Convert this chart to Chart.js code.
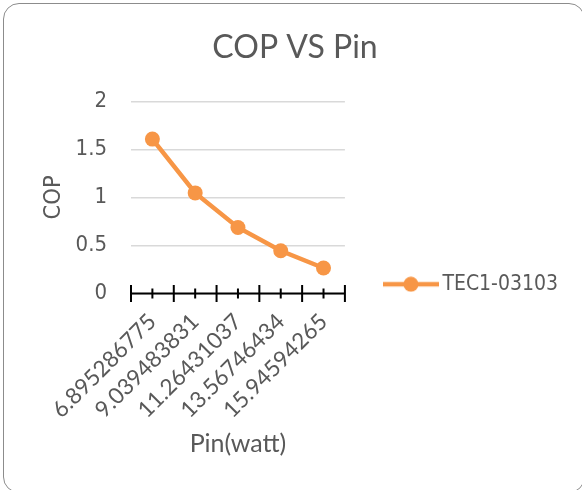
<!DOCTYPE html>
<html>
<head>
<meta charset="utf-8">
<script src="https://cdn.jsdelivr.net/npm/chart.js@4.4.1/dist/chart.umd.min.js"></script>
<style>
  html, body { margin: 0; padding: 0; background: #fff; }
  #wrap { position: relative; width: 582px; height: 490px; overflow: hidden; }
  #frame { position: absolute; left: 3px; top: 3px; width: 582px; height: 490px;
           border: 1.5px solid #8c8c8c; border-radius: 16px; box-sizing: border-box; pointer-events: none; }
</style>
</head>
<body>
<div id="wrap">
  <canvas id="c" width="582" height="490"></canvas>
  <div id="frame"></div>
</div>
<script>
var pinWatt = ['6.895286775', '9.039483831', '11.26431037', '13.56746434', '15.94594265'];
var copValues = [1.607, 1.047, 0.687, 0.444, 0.264];
var seriesName = 'TEC1-03103';
var yMin = 0, yMax = 2, yStep = 0.5;

var orange = '#F79646';
var grey = '#595959';
var narrow = "'Liberation Sans Narrow', 'DejaVu Sans Condensed', sans-serif";

// legend marker: short line with a dot, like the office legend
function legendMarker() {
	var cv = document.createElement('canvas');
	cv.width = 56; cv.height = 16;
	var g = cv.getContext('2d');
	g.strokeStyle = orange;
	g.lineWidth = 4.5;
	g.beginPath(); g.moveTo(0, 8); g.lineTo(56, 8); g.stroke();
	g.fillStyle = orange;
	g.beginPath(); g.arc(28, 8, 7.5, 0, Math.PI * 2); g.fill();
	return cv;
}

// x axis line with ticks crossing it (major between categories, minor at categories)
var crossTicks = {
	id: 'crossTicks',
	afterDatasetsDraw: function (chart) {
		var x = chart.scales.x, y = chart.scales.y;
		var ctx = chart.ctx;
		var y0 = y.getPixelForValue(0);
		var n = x.ticks.length;
		var half = (x.getPixelForValue(1) - x.getPixelForValue(0)) / 2;
		ctx.save();
		ctx.strokeStyle = '#000';
		ctx.lineWidth = 2;
		ctx.beginPath();
		ctx.moveTo(x.getPixelForValue(0) - half, y0);
		ctx.lineTo(x.getPixelForValue(n - 1) + half, y0);
		for (var i = 0; i < n; i++) {
			var c = x.getPixelForValue(i);
			ctx.moveTo(c - half, y0 - 8.5); ctx.lineTo(c - half, y0 + 8.5);
			ctx.moveTo(c, y0 - 5); ctx.lineTo(c, y0 + 5);
		}
		ctx.moveTo(x.getPixelForValue(n - 1) + half, y0 - 8.5);
		ctx.lineTo(x.getPixelForValue(n - 1) + half, y0 + 8.5);
		ctx.stroke();
		ctx.restore();
	}
};

var chart = new Chart(document.getElementById('c'), {
	type: 'line',
	data: {
		labels: pinWatt,
		datasets: [{
			label: seriesName,
			data: copValues,
			borderColor: orange,
			backgroundColor: orange,
			borderWidth: 4.5,
			pointStyle: 'circle',
			pointRadius: 7.5,
			pointHoverRadius: 7.5,
			pointBackgroundColor: orange,
			pointBorderWidth: 0,
			tension: 0
		}]
	},
	plugins: [crossTicks],
	options: {
		responsive: false,
		animation: false,
		layout: { padding: { top: 28, right: 14, bottom: 0, left: 22 } },
		plugins: {
			title: {
				display: true,
				text: 'COP VS Pin',
				color: grey,
				font: { family: 'Lato', size: 32, weight: 'normal' },
				padding: { top: 0, bottom: 35 }
			},
			legend: {
				position: 'right',
				maxWidth: 300,
				title: { display: true, text: '', padding: { top: 36, bottom: 0 } },
				labels: {
					usePointStyle: true,
					pointStyleWidth: 42,
					padding: 45,
					color: grey,
					font: { family: narrow, size: 21 },
					generateLabels: function (ch) {
						var ds = ch.data.datasets[0];
						return [{ text: ds.label, pointStyle: legendMarker(), fontColor: grey, lineWidth: 0, datasetIndex: 0 }];
					}
				}
			},
			tooltip: { enabled: false }
		},
		scales: {
			x: {
				type: 'category',
				offset: true,
				grid: { display: false },
				border: { display: false },
				ticks: {
					color: grey,
					font: { family: 'Lato', size: 22.5 },
					minRotation: 45,
					maxRotation: 45,
					padding: 7
				},
				title: {
					display: true,
					text: 'Pin(watt)',
					color: grey,
					font: { family: 'Lato', size: 25, lineHeight: 1 },
					padding: { top: 0.5, bottom: 34 }
				},
				afterFit: function (s) { s.paddingLeft = 0; s.paddingRight = 0; }
			},
			y: {
				min: yMin,
				max: yMax,
				ticks: {
					stepSize: yStep,
					color: grey,
					font: { family: narrow, size: 22 },
					padding: 24,
					callback: function (v) { return String(v); }
				},
				grid: { color: '#d9d9d9', lineWidth: 1.5, drawTicks: false },
				border: { display: false },
				title: {
					display: true,
					text: 'COP',
					color: grey,
					font: { family: narrow, size: 23.5 },
					padding: { top: 18, bottom: 0 }
				},
				afterFit: function (s) { s.width = 109; }
			}
		}
	}
});
</script>
</body>
</html>
